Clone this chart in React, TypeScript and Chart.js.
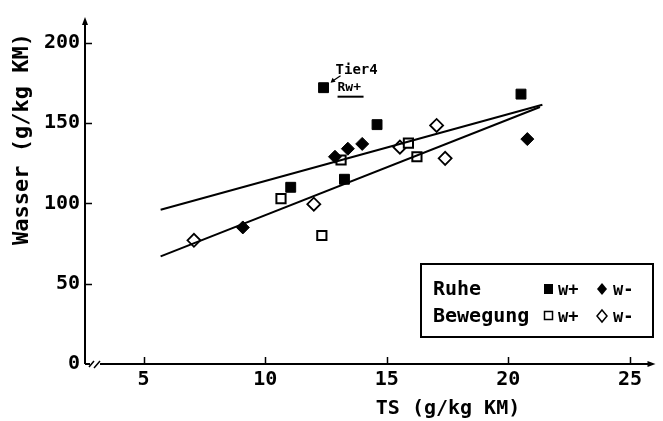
import React, { useEffect, useRef } from 'react';
import { Chart, registerables } from 'chart.js';

Chart.register(...registerables);

// ---- data ----
const ruheWPlusX = [11.05, 12.4, 13.26, 14.6, 20.52];
const ruheWPlusY = [110, 172, 115, 149, 168];
const ruheWMinusX = [9.08, 12.87, 13.4, 13.99, 20.78];
const ruheWMinusY = [85, 129, 134, 137, 140];
const bewWPlusX = [10.65, 12.33, 13.12, 15.89, 16.24];
const bewWPlusY = [103, 80, 127, 137.5, 129];
const bewWMinusX = [7.07, 12.0, 15.54, 17.05, 17.4];
const bewWMinusY = [77, 99.5, 135, 148.5, 128];

const lineUpperX = [5.7, 21.4];
const lineUpperY = [96, 161.4];
const lineLowerX = [5.7, 21.3];
const lineLowerY = [67, 160];

const xTicks = [5, 10, 15, 20, 25];
const yTicks = [0, 50, 100, 150, 200];
const xTitle = 'TS (g/kg KM)';
const yTitle = 'Wasser (g/kg KM)';
const legendRows = ['Ruhe', 'Bewegung'];
const legendSymbols = ['w+', 'w-'];
const annotationTop = 'Tier4';
const annotationSub = 'Rw+';
const annotationPoint = [12.4, 172];

const FONT = '"DejaVu Sans Mono", monospace';

const pts = (xs: number[], ys: number[]) => xs.map((x, i) => ({ x, y: ys[i] }));

const decor = {
  id: 'decor',
  afterDraw(chart: any) {
    const ctx = chart.ctx as CanvasRenderingContext2D;
    const xs = chart.scales.x;
    const ys = chart.scales.y;
    const x0 = xs.left;
    const y0 = ys.bottom;
    ctx.save();
    ctx.strokeStyle = '#000';
    ctx.fillStyle = '#000';
    ctx.lineWidth = 2;
    ctx.lineCap = 'butt';

    // y axis
    ctx.beginPath();
    ctx.moveTo(x0, y0);
    ctx.lineTo(x0, ys.top + 4);
    ctx.stroke();
    ctx.beginPath();
    ctx.moveTo(x0, ys.top);
    ctx.lineTo(x0 - 3, ys.top + 8);
    ctx.lineTo(x0 + 3, ys.top + 8);
    ctx.closePath();
    ctx.fill();

    // foot + break
    ctx.beginPath();
    ctx.moveTo(x0, y0);
    ctx.lineTo(x0 + 5, y0);
    ctx.stroke();
    ctx.lineWidth = 1.5;
    ctx.beginPath();
    ctx.moveTo(x0 + 4, y0 + 3);
    ctx.lineTo(x0 + 9, y0 - 3);
    ctx.moveTo(x0 + 9, y0 + 4);
    ctx.lineTo(x0 + 15, y0 - 3);
    ctx.stroke();
    ctx.lineWidth = 2;
    ctx.beginPath();
    ctx.moveTo(x0 + 15, y0);
    ctx.lineTo(xs.right - 4, y0);
    ctx.stroke();
    ctx.beginPath();
    ctx.moveTo(xs.right + 1, y0);
    ctx.lineTo(xs.right - 7, y0 - 3);
    ctx.lineTo(xs.right - 7, y0 + 3);
    ctx.closePath();
    ctx.fill();

    // tick marks (inside)
    ctx.lineWidth = 1.5;
    ctx.beginPath();
    for (const v of xTicks) {
      const px = Math.round(xs.getPixelForValue(v)) + 0.5;
      ctx.moveTo(px, y0);
      ctx.lineTo(px, y0 - 7);
    }
    for (const v of yTicks) {
      if (v === 0) continue;
      const py = Math.round(ys.getPixelForValue(v)) + 0.5;
      ctx.moveTo(x0, py);
      ctx.lineTo(x0 + 7, py);
    }
    ctx.stroke();

    // axis titles
    ctx.font = `bold 22px ${FONT}`;
    ctx.textAlign = 'center';
    ctx.textBaseline = 'middle';
    ctx.save();
    ctx.translate(22, 139);
    ctx.rotate(-Math.PI / 2);
    ctx.fillText(yTitle, 0, 0);
    ctx.restore();
    ctx.font = `bold 20px ${FONT}`;
    ctx.fillText(xTitle, 448, 409);

    // legend box
    const bx = 421, by = 264, bw = 232, bh = 73;
    ctx.lineWidth = 2;
    ctx.strokeRect(bx, by, bw, bh);
    ctx.textAlign = 'left';
    ctx.textBaseline = 'alphabetic';
    ctx.font = `bold 20px ${FONT}`;
    const rowY = [295, 322];
    ctx.fillText(legendRows[0], 433, rowY[0]);
    ctx.fillText(legendRows[1], 433, rowY[1]);
    ctx.font = `bold 17px ${FONT}`;
    for (let r = 0; r < 2; r++) {
      const cy = rowY[r] - 6;
      ctx.lineWidth = 1.5;
      if (r === 0) {
        ctx.fillRect(544, cy - 5, 9, 10);
      } else {
        ctx.strokeRect(544.5, cy - 4.5, 8, 8);
      }
      ctx.fillText(legendSymbols[0], 558, rowY[r]);
      ctx.beginPath();
      ctx.moveTo(602, cy - 6);
      ctx.lineTo(607, cy);
      ctx.lineTo(602, cy + 6);
      ctx.lineTo(597, cy);
      ctx.closePath();
      if (r === 0) ctx.fill();
      else ctx.stroke();
      ctx.fillText(legendSymbols[1], 613, rowY[r]);
    }

    // annotation
    const ax = xs.getPixelForValue(annotationPoint[0]);
    const ay = ys.getPixelForValue(annotationPoint[1]);
    ctx.font = `bold 14px ${FONT}`;
    ctx.textBaseline = 'middle';
    ctx.fillText(annotationTop, ax + 12, ay - 17);
    ctx.font = `bold 13px ${FONT}`;
    ctx.fillText(annotationSub, ax + 14, ay);
    ctx.lineWidth = 2;
    ctx.beginPath();
    ctx.moveTo(ax + 14, ay + 9);
    ctx.lineTo(ax + 40, ay + 9);
    ctx.stroke();
    ctx.lineWidth = 1.2;
    ctx.beginPath();
    ctx.moveTo(ax + 17, ay - 12);
    ctx.lineTo(ax + 8, ay - 6);
    ctx.stroke();
    ctx.beginPath();
    ctx.moveTo(ax + 7, ay - 5);
    ctx.lineTo(ax + 9, ay - 10);
    ctx.lineTo(ax + 12, ay - 6);
    ctx.closePath();
    ctx.fill();

    ctx.restore();
  },
};

export default function App() {
  const ref = useRef<HTMLCanvasElement>(null);
  useEffect(() => {
    if (!ref.current) return;
    const black = '#000';
    const chart = new Chart(ref.current, {
      type: 'scatter',
      data: {
        datasets: [
          {
            data: pts(lineUpperX, lineUpperY),
            showLine: true,
            borderColor: black,
            borderWidth: 2,
            pointRadius: 0,
          },
          {
            data: pts(lineLowerX, lineLowerY),
            showLine: true,
            borderColor: black,
            borderWidth: 2,
            pointRadius: 0,
          },
          {
            data: pts(ruheWPlusX, ruheWPlusY),
            pointStyle: 'rect',
            pointRadius: 7,
            backgroundColor: black,
            borderColor: black,
            borderWidth: 1,
          },
          {
            data: pts(ruheWMinusX, ruheWMinusY),
            pointStyle: 'rectRot',
            pointRadius: 6.5,
            backgroundColor: black,
            borderColor: black,
            borderWidth: 1,
          },
          {
            data: pts(bewWPlusX, bewWPlusY),
            pointStyle: 'rect',
            pointRadius: 6.5,
            backgroundColor: '#fff',
            borderColor: black,
            borderWidth: 2,
          },
          {
            data: pts(bewWMinusX, bewWMinusY),
            pointStyle: 'rectRot',
            pointRadius: 6.5,
            backgroundColor: '#fff',
            borderColor: black,
            borderWidth: 1.8,
          },
        ],
      },
      options: {
        animation: false,
        responsive: false,
        layout: { padding: { top: 14, right: 5, left: 0, bottom: 0 } },
        plugins: { legend: { display: false }, tooltip: { enabled: false } },
        scales: {
          x: {
            type: 'linear',
            min: 2.59,
            max: 26.01,
            grid: { display: false, drawTicks: false },
            border: { display: false },
            afterFit: (s: any) => {
              s.height = 57;
            },
            afterBuildTicks: (s: any) => {
              s.ticks = xTicks.map((v) => ({ value: v }));
            },
            ticks: {
              color: black,
              padding: 4,
              maxRotation: 0,
              autoSkip: false,
              font: { family: FONT, size: 20, weight: 'bold' },
            },
          },
          y: {
            type: 'linear',
            min: 0,
            max: 216,
            grid: { display: false, drawTicks: false },
            border: { display: false },
            afterFit: (s: any) => {
              s.width = 85;
            },
            afterBuildTicks: (s: any) => {
              s.ticks = yTicks.map((v) => ({ value: v }));
            },
            ticks: {
              color: black,
              padding: 5,
              autoSkip: false,
              font: { family: FONT, size: 20, weight: 'bold' },
            },
          },
        },
      },
      plugins: [decor],
    });
    return () => chart.destroy();
  }, []);
  return (
    <div style={{ position: 'absolute', left: 0, top: 0, width: 663, height: 421, background: '#fff' }}>
      <canvas ref={ref} width={663} height={421} style={{ width: 663, height: 421 }} />
    </div>
  );
}
